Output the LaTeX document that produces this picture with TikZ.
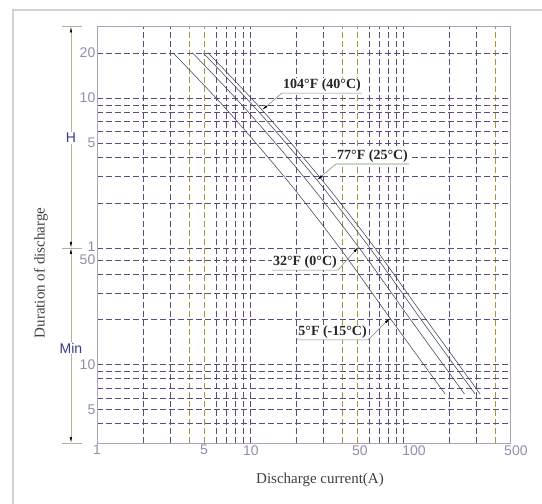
\documentclass[tikz,border=0pt]{standalone}
\usepackage{fontspec}
\setmainfont{Liberation Serif}
\setsansfont{Liberation Sans}
\usetikzlibrary{arrows.meta}
\tikzset{>={Latex[length=6pt,width=2.4pt,color=black]}}

\definecolor{gridviolet}{RGB}{95,75,125}
\definecolor{gridolive}{RGB}{165,150,55}
\definecolor{framegray}{RGB}{175,160,185}
\definecolor{curvegray}{RGB}{60,70,90}
\definecolor{leadergreen}{RGB}{110,145,110}
\definecolor{dimgreen}{RGB}{165,185,150}
\definecolor{ticktext}{RGB}{150,140,170}
\definecolor{unitblue}{RGB}{55,60,130}

\tikzset{
  gridline/.style={gridviolet, line width=0.6pt, dash pattern=on 6pt off 3pt},
  gridolive/.style={gridline, draw=gridolive},
  plotframe/.style={framegray, line width=0.8pt},
  pageframe/.style={gray!35, line width=1.2pt},
  curve/.style={curvegray, line width=0.55pt},
  leader/.style={leadergreen, line width=0.55pt, ->},
  dimline/.style={dimgreen, line width=0.6pt},
  templabel/.style={fill=white, inner sep=1pt, font=\fontsize{14}{16}\selectfont\bfseries, text=black!85},
  ytick/.style={anchor=east, inner sep=1.5pt, text=ticktext, font=\sffamily\fontsize{14}{16}\selectfont},
  xtick/.style={anchor=north, inner sep=2pt, text=ticktext, font=\sffamily\fontsize{14}{16}\selectfont},
  unitlabel/.style={fill=white, inner sep=1pt, text=unitblue, font=\sffamily\fontsize{14}{16}\selectfont},
  axistitle/.style={text=black!75, font=\fontsize{15}{18}\selectfont}
}

\begin{document}
\begin{tikzpicture}
  \useasboundingbox (0,0) rectangle (542pt,504pt);
  \draw[pageframe] (13pt,0pt) -- (13pt,494pt) -- (542pt,494pt);

  \begin{scope}[shift={(97pt,256pt)}, x=153pt, y=150pt]
    \coordinate (ll) at (0,{log10(0.05)});
    \coordinate (ur) at ({log10(500)},{log10(30)});

    % grid
    \foreach \i in {2,3,6,7,8,9,10,20,30,60,70,80,90,100,200,300}
      \draw[gridline] ({log10(\i)},{log10(0.05)}) -- ({log10(\i)},{log10(30)});
    \foreach \i in {4,5,40,50,400}
      \draw[gridolive] ({log10(\i)},{log10(0.05)}) -- ({log10(\i)},{log10(30)});
    \foreach \h in {1,2,3,4,5,6,7,8,9,10,20}
      \draw[gridline] (0,{log10(\h)}) -- ({log10(500)},{log10(\h)});
    \foreach \m in {4,5,6,7,8,9,10,20,30,40,50}
      \draw[gridline] (0,{log10(\m/60)}) -- ({log10(500)},{log10(\m/60)});
    \draw[plotframe] (ll) rectangle (ur);

    % curves, 5F / 32F / 77F / 104F
    \foreach \s in {0,0.127,0.196,0.229}
      \draw[curve, shift={(\s,0)}] plot[smooth] coordinates
        {(0.497,1.301) (0.850,0.920) (1.242,0.453) (1.582,0.007) (1.915,-0.467) (2.275,-0.973)};

    \coordinate (tip104) at (1.079,0.920);
    \coordinate (tip77) at (1.438,0.453);
    \coordinate (tip32) at (1.709,0.007);
    \coordinate (tip5) at (1.915,-0.467);

    \node[templabel, anchor=south west] (lbl104) at (1.209,1.033) {104°F (40°C)};
    \node[templabel, anchor=south west] (lbl77) at (1.562,0.560) {77°F (25°C)};
    \node[templabel, anchor=south east] (lbl32) at (1.575,-0.147) {32°F (0°C)};
    \node[templabel, anchor=south east] (lbl5) at (1.771,-0.613) {5°F (-15°C)};

    \draw[leader] (lbl104.south east) -- (lbl104.south west) -- (tip104);
    \draw[leader] (lbl77.south east) -- (lbl77.south west) -- (tip77);
    \draw[leader] (lbl32.south west) -- (lbl32.south east) -- (tip32);
    \draw[leader] (lbl5.south west) -- (lbl5.south east) -- (tip5);

    % tick labels
    \foreach \h in {20,10,5}
      \node[ytick] (yh\h) at (0,{log10(\h)}) {\h};
    \node[ytick] (yh1) at (0,0.01) {1};
    \foreach \m in {50,10,5}
      \node[ytick] (ym\m) at (0,{log10(\m/60)}) {\m};
    \foreach \i/\dx in {1/0,5/0,10/1,50/3,100/11,500/6}
      \node[xtick, xshift=\dx] (xt\i) at ({log10(\i)},{log10(0.05)}) {\i};

    % duration scale
    \coordinate (dimtop) at (-0.17,{log10(30)});
    \coordinate (dimmid) at (-0.17,0);
    \coordinate (dimbot) at (-0.17,{log10(0.05)});
    \draw[dimline, <->] (dimtop) -- (dimmid);
    \draw[dimline, <->] (dimmid) -- (dimbot);
    \foreach \c in {dimtop,dimmid,dimbot}
      \draw[dimline] (\c) ++(-9pt,0) -- ++(20pt,0);
    \node[unitlabel] (unith) at (-0.17,0.733) {H};
    \node[unitlabel] (unitmin) at (-0.17,-0.667) {Min};
  \end{scope}

  \node[axistitle] (xtitle) at (320pt,24pt) {Discharge current(A)};
  \node[axistitle, rotate=90] (ytitle) at (41pt,231pt) {Duration of discharge};
\end{tikzpicture}
\end{document}
